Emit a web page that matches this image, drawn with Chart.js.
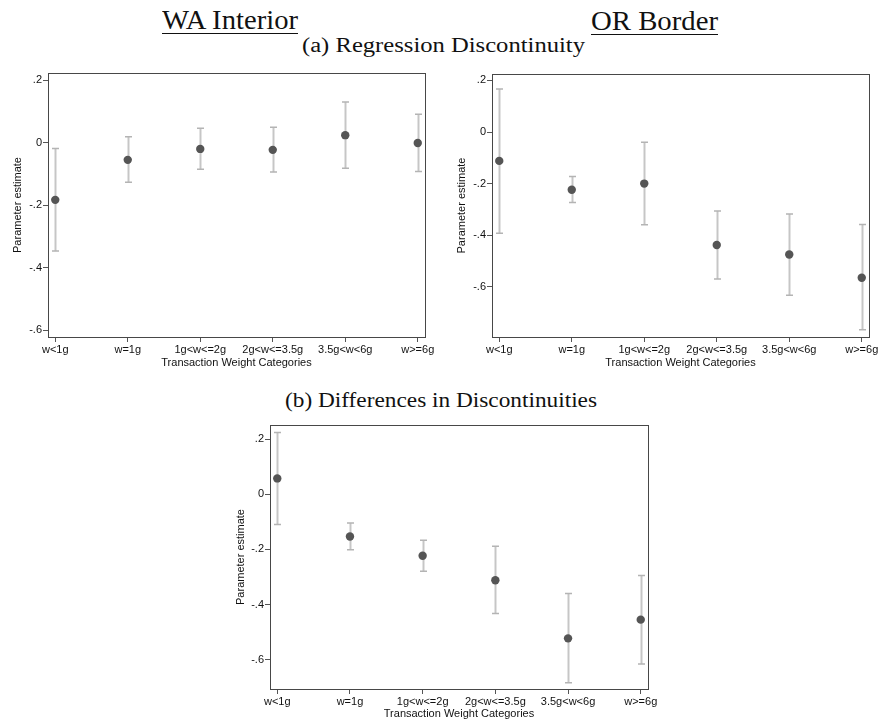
<!DOCTYPE html>
<html>
<head>
<meta charset="utf-8">
<script src="https://cdn.jsdelivr.net/npm/chart.js@4.4.1/dist/chart.umd.min.js"></script>
<style>
  html, body { margin: 0; padding: 0; background: #fff; }
  body { width: 881px; height: 723px; position: relative; overflow: hidden; }
  canvas { position: absolute; }
  .ttl { position: absolute; font-family: "Liberation Serif", serif; color: #111; white-space: nowrap; transform-origin: 0 0; line-height: 1; }
  .ul { position: absolute; height: 1px; background: #111; }
</style>
</head>
<body>
<div class="ttl" id="t1" data-l="162" data-r="298" data-b="31" style="font-size:27px">WA Interior</div>
<div class="ttl" id="t2" data-l="591" data-r="718" data-b="32" style="font-size:27px">OR Border</div>
<div class="ttl" id="t3" data-l="302" data-r="585" data-b="53" style="font-size:20px">(a) Regression Discontinuity</div>
<div class="ttl" id="t4" data-l="285" data-r="597" data-b="408" style="font-size:20px">(b) Differences in Discontinuities</div>
<div class="ul" style="left:162px;width:136px;top:33px"></div>
<div class="ul" style="left:591px;width:127px;top:34px"></div>
<canvas id="c1" width="440" height="310" style="left:0px;top:63px"></canvas>
<canvas id="c2" width="440" height="310" style="left:441px;top:63px"></canvas>
<canvas id="c3" width="440" height="308" style="left:222px;top:415px"></canvas>
<script>
// ---- data ----
const categories = ['w<1g', 'w=1g', '1g<w<=2g', '2g<w<=3.5g', '3.5g<w<6g', 'w>=6g'];
const yTicks = [0.2, 0, -0.2, -0.4, -0.6];

const waEst = [-0.183, -0.055, -0.020, -0.023, 0.024, -0.001];
const waLo  = [-0.347, -0.127, -0.085, -0.094, -0.082, -0.092];
const waHi  = [-0.019, 0.019, 0.046, 0.049, 0.130, 0.091];

const orEst = [-0.112, -0.224, -0.200, -0.438, -0.475, -0.565];
const orLo  = [-0.393, -0.273, -0.360, -0.570, -0.633, -0.767];
const orHi  = [0.167, -0.173, -0.040, -0.306, -0.318, -0.359];

const ddEst = [0.058, -0.153, -0.223, -0.312, -0.523, -0.455];
const ddLo  = [-0.109, -0.201, -0.279, -0.433, -0.684, -0.616];
const ddHi  = [0.225, -0.104, -0.167, -0.188, -0.360, -0.295];

// ---- titles: fit width ----
document.querySelectorAll('.ttl').forEach(el => {
  const l = +el.dataset.l, r = +el.dataset.r, b = +el.dataset.b;
  const w = el.getBoundingClientRect().width;
  const fs = parseFloat(el.style.fontSize);
  el.style.left = l + 'px';
  el.style.top = (b - fs * 0.89) + 'px';
  el.style.transform = 'scaleX(' + ((r - l) / w) + ')';
});

function fmt(v) {
  if (Math.abs(v) < 1e-9) return '0';
  return (v < 0 ? '-' : '') + Math.abs(v).toFixed(1).replace(/^0/, '');
}

const frameAndBars = {
  id: 'frameAndBars',
  beforeDatasetsDraw(chart) {
    const {ctx, chartArea: a, scales: {x, y}} = chart;
    const eb = chart.options.plugins.frameAndBars;
    ctx.save();
    // error bars
    for (let i = 0; i < eb.lo.length; i++) {
      const px = Math.round(x.getPixelForValue(i)) + 0.5;
      const pl = y.getPixelForValue(eb.lo[i]);
      const ph = y.getPixelForValue(eb.hi[i]);
      ctx.strokeStyle = '#c6c6c6';
      ctx.lineWidth = 2;
      ctx.beginPath(); ctx.moveTo(px, ph); ctx.lineTo(px, pl); ctx.stroke();
      ctx.strokeStyle = '#b4b4b4';
      ctx.lineWidth = 1.5;
      ctx.beginPath();
      ctx.moveTo(px - 3.5, ph); ctx.lineTo(px + 3.5, ph);
      ctx.moveTo(px - 3.5, pl); ctx.lineTo(px + 3.5, pl);
      ctx.stroke();
    }
    // frame
    ctx.strokeStyle = '#474747';
    ctx.lineWidth = 1;
    ctx.strokeRect(Math.round(a.left) + 0.5, Math.round(a.top) + 0.5,
                   Math.round(a.right - a.left), Math.round(a.bottom - a.top));
    ctx.restore();
  }
};

function makeChart(id, est, lo, hi, yMin, yMax, yw, pad, xh, ytPad, xtPad) {
  const tickFont = {family: '"Liberation Sans", Arial, sans-serif', size: 11};
  return new Chart(document.getElementById(id), {
    type: 'scatter',
    data: {
      datasets: [{
        data: est.map((v, i) => ({x: i, y: v})),
        backgroundColor: '#555555',
        borderColor: '#555555',
        pointRadius: 4.2,
        pointHoverRadius: 4.2,
        borderWidth: 0
      }]
    },
    options: {
      responsive: false,
      animation: false,
      devicePixelRatio: 1,
      layout: {padding: pad},
      plugins: {
        legend: {display: false},
        tooltip: {enabled: false},
        frameAndBars: {lo: lo, hi: hi}
      },
      scales: {
        x: {
          type: 'linear',
          min: -0.1, max: 5.1,
          afterBuildTicks: s => { s.ticks = categories.map((c, i) => ({value: i})); },
          afterFit: s => { s.height = xh; },
          border: {display: false},
          grid: {drawOnChartArea: false, drawTicks: true, tickLength: 5, color: '#555'},
          ticks: {
            callback: v => categories[v],
            font: tickFont, color: '#111', padding: 1,
            maxRotation: 0, autoSkip: false
          },
          title: {display: true, text: 'Transaction Weight Categories', font: tickFont, color: '#111',
                  padding: {top: 0, bottom: xtPad}}
        },
        y: {
          min: yMin, max: yMax,
          afterBuildTicks: s => { s.ticks = yTicks.map(v => ({value: v})); },
          afterFit: s => { s.width = yw; },
          border: {display: false},
          grid: {drawOnChartArea: false, drawTicks: true, tickLength: 5, color: '#555'},
          ticks: {callback: v => fmt(v), font: tickFont, color: '#111', padding: 1},
          title: {display: true, text: 'Parameter estimate', font: tickFont, color: '#111',
                  padding: {top: ytPad, bottom: 0}}
        }
      }
    },
    plugins: [frameAndBars]
  });
}

makeChart('c1', waEst, waLo, waHi, -0.622, 0.223, 48, {top: 10, right: 15, left: 0, bottom: 0}, 36, 11.4, 3.4);
makeChart('c2', orEst, orLo, orHi, -0.795, 0.225, 51, {top: 11, right: 12, left: 0, bottom: 0}, 36, 14.4, 3.4);
makeChart('c3', ddEst, ddLo, ddHi, -0.707, 0.252, 48, {top: 10, right: 14, left: 0, bottom: 0}, 34, 12, 2.4);
</script>
</body>
</html>
